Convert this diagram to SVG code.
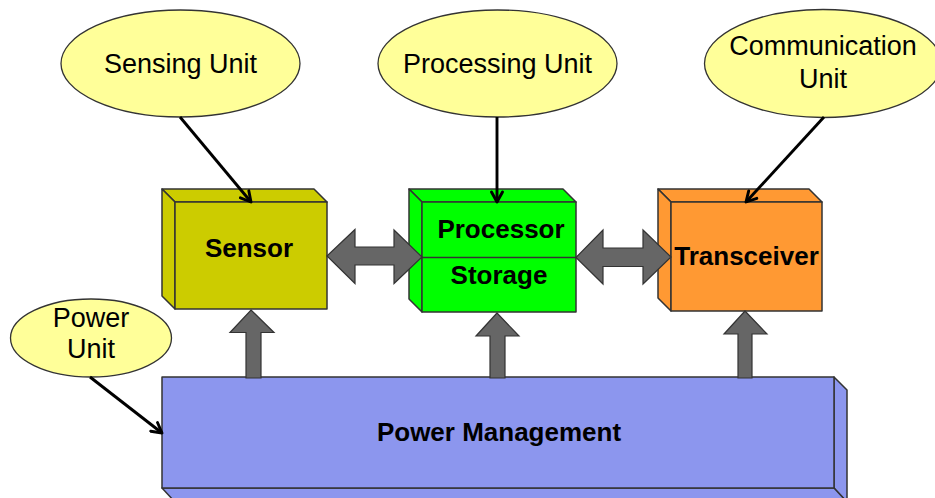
<svg xmlns="http://www.w3.org/2000/svg" width="935" height="498" viewBox="0 0 935 498">
<style>
.ell{fill:#FFFF99;stroke:#333;stroke-width:1.3}
.lbl{font-family:"Liberation Sans",Arial,sans-serif;font-size:27px;fill:#000;text-anchor:middle}
.bl{font-family:"Liberation Sans",Arial,sans-serif;font-size:26px;font-weight:bold;fill:#000;text-anchor:middle}
.face{stroke:#333;stroke-width:1.5;stroke-linejoin:round}
.blk{fill:#666;stroke:#333;stroke-width:1.2;stroke-linejoin:miter}
.ln{stroke:#000;stroke-width:2.9;fill:none;marker-end:url(#ah)}
</style>
<defs>
<marker id="ah" viewBox="0 0 14 14" refX="12" refY="7" markerWidth="14" markerHeight="14" markerUnits="userSpaceOnUse" orient="auto">
<path d="M2,1.5 L12,7 L2,12.5" fill="none" stroke="#000" stroke-width="2.9" stroke-linecap="round" stroke-linejoin="round"/>
</marker>
</defs>
<rect width="935" height="498" fill="#fff"/>

<g id="sensing-unit">
<ellipse class="ell" cx="180.5" cy="63.5" rx="119.5" ry="53.5"/>
<text class="lbl" x="180.5" y="73">Sensing Unit</text>
</g>
<g id="processing-unit">
<ellipse class="ell" cx="497.5" cy="63.5" rx="119.5" ry="53.5"/>
<text class="lbl" x="497.5" y="73">Processing Unit</text>
</g>
<g id="communication-unit">
<ellipse class="ell" cx="823" cy="63.5" rx="118.5" ry="54"/>
<text class="lbl" x="823" y="55">Communication</text>
<text class="lbl" x="823" y="88">Unit</text>
</g>
<g id="power-unit">
<ellipse class="ell" cx="91" cy="338" rx="80.5" ry="39"/>
<text class="lbl" x="91" y="327">Power</text>
<text class="lbl" x="91" y="358">Unit</text>
</g>

<g id="sensor">
<polygon class="face" fill="#CCCC00" points="162,189 314,189 327,202 175,202"/>
<polygon class="face" fill="#CCCC00" points="162,189 175,202 175,309 162,296"/>
<rect class="face" fill="#CCCC00" x="175" y="202" width="152" height="107"/>
<text class="bl" x="249" y="257">Sensor</text>
</g>
<g id="processor-storage">
<polygon class="face" fill="#00FF00" points="409,189 563,189 576,202 422,202"/>
<polygon class="face" fill="#00FF00" points="409,189 422,202 422,312 409,299"/>
<rect class="face" fill="#00FF00" x="422" y="202" width="154" height="110"/>
<line class="face" x1="422" y1="257.5" x2="576" y2="257.5"/>
<text class="bl" x="501" y="238">Processor</text>
<text class="bl" x="499" y="284">Storage</text>
</g>
<g id="transceiver">
<polygon class="face" fill="#FF9933" points="658,189 809,189 822,202 671,202"/>
<polygon class="face" fill="#FF9933" points="658,189 671,202 671,311 658,298"/>
<rect class="face" fill="#FF9933" x="671" y="202" width="151" height="109"/>
<text class="bl" x="746.5" y="265">Transceiver</text>
</g>
<g id="power-management">
<polygon class="face" fill="#8C96EE" points="834,377 847,390 847,502 834,488"/>
<polygon class="face" fill="#8C96EE" points="162,488 834,488 847,502 175,502"/>
<rect class="face" fill="#8C96EE" x="162" y="377" width="672" height="111"/>
<text class="bl" x="499" y="441">Power Management</text>
</g>

<g id="connectors">
<line class="ln" x1="180" y1="117" x2="251" y2="202"/>
<line class="ln" x1="497" y1="117" x2="497" y2="202"/>
<line class="ln" x1="824" y1="117" x2="746" y2="202"/>
<line class="ln" x1="90" y1="377" x2="162" y2="433"/>
<polygon class="blk" points="327,256 355,229.5 355,247 394,247 394,230 422,257 394,283.5 394,265 355,265 355,283.5"/>
<polygon class="blk" points="576,257.5 603,230 603,248 643,248 643,230 671,257 643,284 643,266.5 603,266.5 603,284"/>
<polygon class="blk" points="251,310 274,332.5 261,332.5 261,378 246,378 246,332.5 230,332.5"/>
<polygon class="blk" points="497,313 519,336 505,336 505,378 490,378 490,336 476,336"/>
<polygon class="blk" points="745,311 767,334 752,334 752,378 738,378 738,334 724,334"/>
</g>
</svg>
